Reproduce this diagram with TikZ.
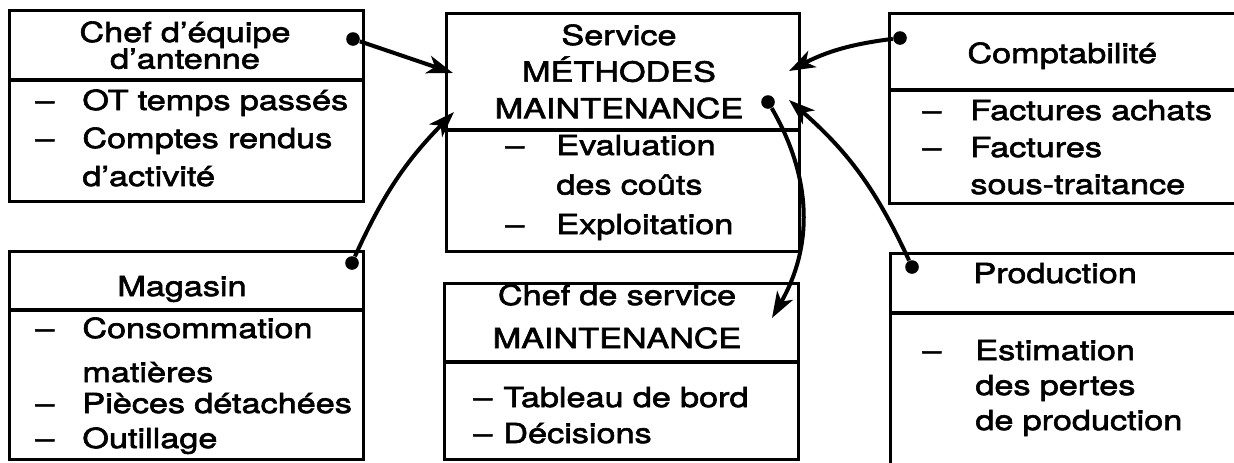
\documentclass[tikz,border=0pt]{standalone}
\usepackage{fontspec}
\setmainfont{TeX Gyre Heros}[FakeStretch=1.24,FakeBold=2.2]
\usetikzlibrary{arrows.meta}
\newcommand{\tiret}[1]{\makebox[#1][l]{--}}
\newcommand{\retrait}[1]{\hspace*{#1}}
\tikzset{
  cadre/.style={draw,line width=1.6pt,anchor=north west,inner sep=0pt},
  trait/.style={line width=1.6pt},
  titre/.style={text width=170pt,align=center,inner sep=0pt,anchor=base,
    font={\fontsize{13.8}{#1}\selectfont\lineskiplimit=-20pt}},
  liste/.style={text width=200pt,align=left,inner sep=0pt,anchor=base west,
    font={\fontsize{13.8}{#1}\selectfont\lineskiplimit=-20pt}},
  fleche/.style={-{Stealth[length=13pt,width=9pt,inset=3.5pt]},line width=2pt},
  point/.style={circle,fill,inner sep=0pt,minimum size=6.8pt},
}

\begin{document}
\begin{tikzpicture}[x=0.5pt,y=0.5pt]
  \useasboundingbox (0,0) rectangle (1234,-462);
  \clip (0,0) rectangle (1234,-462);
  \fill[white] (0,0) rectangle (1234,-462);

  % cadres
  \node[cadre,minimum width=177pt,minimum height=95.5pt] (ce) at (8,-9) {};
  \node[cadre,minimum width=176.5pt,minimum height=119pt] (sm) at (445,-12) {};
  \node[cadre,minimum width=186pt,minimum height=95pt] (co) at (888,-12) {};
  \node[cadre,minimum width=177pt,minimum height=104pt] (mg) at (8,-250) {};
  \node[cadre,minimum width=177pt,minimum height=88pt] (cs) at (443,-282) {};
  \node[cadre,minimum width=186pt,minimum height=114pt] (pr) at (889,-252) {};
  \draw[trait] (ce.west |- 0,-80) -- (ce.east |- 0,-80);
  \draw[trait] (sm.west |- 0,-130) -- (sm.east |- 0,-130);
  \draw[trait] (co.west |- 0,-90) -- (co.east |- 0,-90);
  \draw[trait] (mg.west |- 0,-310) -- (mg.east |- 0,-310);
  \draw[trait] (cs.west |- 0,-362) -- (cs.east |- 0,-362);
  \draw[trait] (pr.west |- 0,-313) -- (pr.east |- 0,-313);

  % textes
  \node[titre=13.3pt] (ce-t) at (185,-42) {Chef d'équipe\\d'antenne};
  \node[liste=19pt] (ce-l) at (35,-110)
    {\tiret{23.5pt}OT temps passés\\ \tiret{23.5pt}Comptes rendus\\ \retrait{23.5pt}d'activité};
  \node[titre=18.3pt] (sm-t) at (619,-45) {Service\\MÉTHODES\\MAINTENANCE};
  \node[liste=19.75pt] (sm-l) at (505,-155)
    {\tiret{25.5pt}Evaluation\\ \retrait{25.5pt}des coûts\\ \tiret{25.5pt}Exploitation};
  \node[liste=16pt] (co-t) at (967,-63) {Comptabilité};
  \node[liste=18.5pt] (co-l) at (922,-120)
    {\tiret{24pt}Factures achats\\ \tiret{24pt}Factures\\ \retrait{24pt}sous-traitance};
  \node[titre=16pt] (mg-t) at (182,-296) {Magasin};
  \node[liste=17.5pt] (mg-l) at (35,-338)
    {\tiret{23.5pt}Consommation\\[4.5pt] \retrait{23.5pt}matières\\[-2pt]
     \tiret{23.5pt}Pièces détachées\\ \tiret{23.5pt}Outillage};
  \node[titre=21.5pt] (cs-t) at (617,-305) {Chef de service\\MAINTENANCE};
  \node[liste=18pt] (cs-l) at (473,-407)
    {\tiret{15pt}Tableau de bord\\ \tiret{15pt}Décisions};
  \node[liste=16pt] (pr-t) at (973,-283) {Production};
  \node[liste=17.5pt] (pr-l) at (922,-360)
    {\tiret{26.5pt}Estimation\\ \retrait{26.5pt}des pertes\\ \retrait{26.5pt}de production};

  % liaisons
  \node[point] (p-ce) at (353,-39) {};
  \node[point] (p-mg) at (352,-263) {};
  \node[point] (p-co) at (900,-38) {};
  \node[point] (p-pr) at (912,-267) {};
  \node[point] (p-sm) at (768,-102) {};
  \coordinate (t-ce) at (453,-73);
  \coordinate (t-mg) at (454,-112);
  \coordinate (t-co) at (789,-71);
  \coordinate (t-pr) at (789,-100);
  \coordinate (t-cs) at (772,-318);
  \draw[fleche] (p-ce) -- (t-ce);
  \draw[fleche] (p-mg) to[bend left=10] (t-mg);
  \draw[fleche] (p-co) to[bend right=10] (t-co);
  \draw[fleche] (p-pr) to[bend right=12] (t-pr);
  \draw[fleche] (p-sm) to[bend left=30] (t-cs);
\end{tikzpicture}
\end{document}
